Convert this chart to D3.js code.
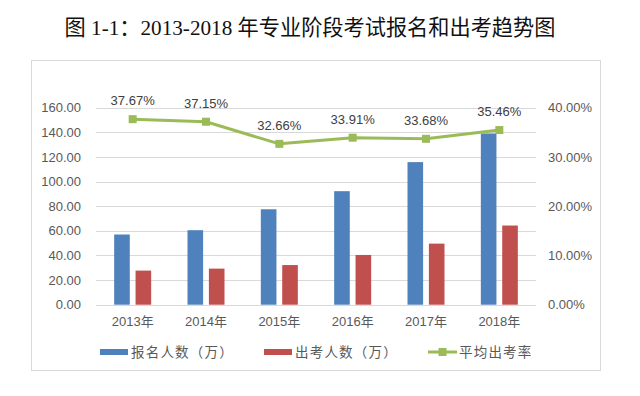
<!DOCTYPE html>
<html><head><meta charset="utf-8">
<script src="https://cdn.jsdelivr.net/npm/d3@7"></script>
<style>
html,body{margin:0;padding:0;background:#fff;}
svg{display:block;}
</style></head>
<body>
<svg id="c" width="640" height="396"></svg>
<script>
const years = ["2013年","2014年","2015年","2016年","2017年","2018年"];
const applicants = [57.0, 60.5, 77.5, 92.2, 115.8, 139.1];
const attendees = [27.7, 29.3, 32.2, 40.4, 49.6, 64.3];
const rates = [37.67, 37.15, 32.66, 33.91, 33.68, 35.46];
const leftTicks = [0,20,40,60,80,100,120,140,160];
const rightTicks = [0,10,20,30,40];
const seriesNames = ["报名人数（万）","出考人数（万）","平均出考率"];
const colors = ["#4f81bd","#c0504d","#9bbb59"];

const svg = d3.select("#c");
const L = 96, R = 536, T = 107.7, B = 304.7;

svg.append("text").attr("x",310).attr("y",35).attr("text-anchor","middle")
  .attr("font-family","'Liberation Serif','Noto Sans CJK SC',serif").attr("font-size",21.2)
  .attr("fill","#111").text("图 1-1：2013-2018 年专业阶段考试报名和出考趋势图");

svg.append("rect").attr("x",31.5).attr("y",60.5).attr("width",569).attr("height",310)
  .attr("fill","none").attr("stroke","#d9d9d9");

const x0 = d3.scaleBand().domain(years).range([L,R]).padding(0);
const x1 = d3.scaleBand().domain(["a","b"]).range([0,37]).paddingInner(0.27);
const y = d3.scaleLinear().domain([0,160]).range([B,T]);
const y2 = d3.scaleLinear().domain([0,40]).range([B,T]);

svg.append("g").selectAll("line").data(leftTicks).join("line")
  .attr("x1",L).attr("x2",R).attr("y1",d=>Math.round(y(d))+0.5).attr("y2",d=>Math.round(y(d))+0.5)
  .attr("stroke","#d9d9d9").attr("stroke-width",1);

const axFont = "'Liberation Sans','Noto Sans',Arial,sans-serif";
const ly = d3.axisLeft(y).tickValues(leftTicks).tickFormat(d=>d.toFixed(2)).tickSize(0).tickPadding(15);
const gl = svg.append("g").attr("transform",`translate(${L},0)`).call(ly);
gl.select(".domain").remove();
gl.selectAll("text").attr("font-family",axFont).attr("font-size",13).attr("fill","#595959");

const ry = d3.axisRight(y2).tickValues(rightTicks).tickFormat(d=>d.toFixed(2)+"%").tickSize(0).tickPadding(12);
const gr = svg.append("g").attr("transform",`translate(${R},0)`).call(ry);
gr.select(".domain").remove();
gr.selectAll("text").attr("font-family",axFont).attr("font-size",13).attr("fill","#595959");

const bx = d3.axisBottom(x0).tickSize(0).tickPadding(12);
const gb = svg.append("g").attr("transform",`translate(0,${B})`).call(bx);
gb.select(".domain").remove();
gb.selectAll("text").attr("font-family","'Liberation Sans','Noto Sans CJK SC',sans-serif").attr("font-size",13).attr("fill","#595959");

const cx = d => x0(d) + x0.bandwidth()/2;

svg.append("g").selectAll("rect").data(years).join("rect")
  .attr("x",(d)=>cx(d)-18.5+x1("a")).attr("width",x1.bandwidth())
  .attr("y",(d,i)=>y(applicants[i])).attr("height",(d,i)=>B-y(applicants[i]))
  .attr("fill",colors[0]);
svg.append("g").selectAll("rect").data(years).join("rect")
  .attr("x",(d)=>cx(d)-18.5+x1("b")).attr("width",x1.bandwidth())
  .attr("y",(d,i)=>y(attendees[i])).attr("height",(d,i)=>B-y(attendees[i]))
  .attr("fill",colors[1]);

const line = d3.line().x((d,i)=>cx(years[i])).y(d=>y2(d));
svg.append("path").datum(rates).attr("d",line).attr("fill","none")
  .attr("stroke",colors[2]).attr("stroke-width",3).attr("stroke-linejoin","round");
svg.append("g").selectAll("rect").data(rates).join("rect")
  .attr("x",(d,i)=>cx(years[i])-4).attr("y",d=>y2(d)-4).attr("width",8).attr("height",8)
  .attr("fill",colors[2]);
svg.append("g").selectAll("text").data(rates).join("text")
  .attr("x",(d,i)=>cx(years[i])).attr("y",d=>y2(d)-14).attr("text-anchor","middle")
  .attr("font-family",axFont).attr("font-size",13).attr("fill","#404040")
  .text(d=>d.toFixed(2)+"%");

const lgFont = "'Noto Sans CJK SC',sans-serif";
const lg = svg.append("g");
const items = [{x:100,t:"bar"},{x:264,t:"bar"},{x:428,t:"line"}];
items.forEach((it,i)=>{
  const g = lg.append("g");
  if(it.t==="bar"){
    g.append("rect").attr("x",it.x).attr("y",349).attr("width",28).attr("height",6).attr("fill",colors[i]);
  } else {
    g.append("line").attr("x1",it.x).attr("x2",it.x+29).attr("y1",352).attr("y2",352).attr("stroke",colors[i]).attr("stroke-width",3);
    g.append("rect").attr("x",it.x+10.5).attr("y",348).attr("width",8).attr("height",8).attr("fill",colors[i]);
  }
  g.append("text").attr("x",it.x+31).attr("y",357).attr("font-family",lgFont).attr("font-size",13.5)
    .attr("letter-spacing",1.2).attr("fill","#595959").text(seriesNames[i]);
});
</script>
</body></html>
